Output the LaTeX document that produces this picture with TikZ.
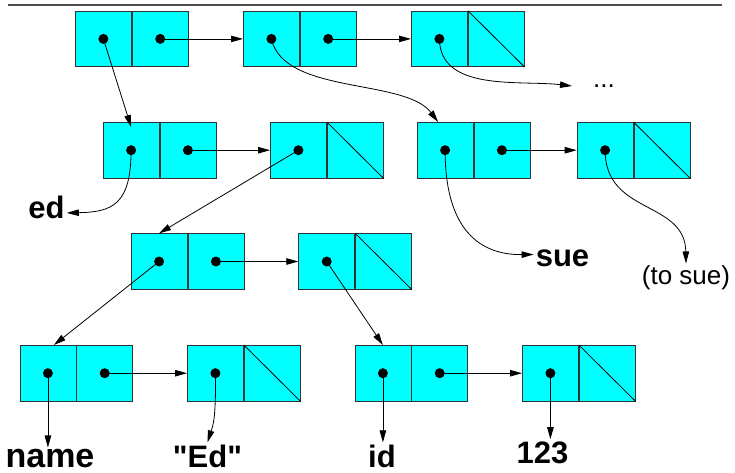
\documentclass[tikz,border=0pt]{standalone}
\usepackage{fontspec}
\setmainfont{Liberation Sans}
% a family without TeX ligatures, so that " stays a straight quote
\newfontfamily\labelfont{Liberation Sans}
\usetikzlibrary{arrows.meta}

\definecolor{cellcyan}{RGB}{0,255,255}

\tikzset{
  cell/.style={draw=black!80, fill=cellcyan, line width=0.8pt, inner sep=0pt,
               minimum width=56pt, minimum height=55.6pt},
  ptr/.style={line width=0.8pt, -{Triangle[length=12pt,width=6.5pt]}},
  lbl/.style={font=\labelfont\fontsize{31}{31}\selectfont\bfseries, inner sep=2pt},
  biglbl/.style={font=\labelfont\fontsize{34}{34}\selectfont\bfseries, inner sep=1pt},
  sm/.style={font=\labelfont\fontsize{26}{26}\selectfont, inner sep=2pt},
}

% cons pair: #1 name, #2 left, #3 top, #4 = 1 when the cdr is nil
\newcommand\conspair[4]{%
  \node[cell, anchor=north west] (#1car) at (#2,#3) {};
  \node[cell, anchor=north west] (#1cdr) at (#1car.north east) {};
  \fill (#1car.center) circle (5pt);
  \ifnum#4=1
    \draw[line width=0.8pt] (#1cdr.north west) -- (#1cdr.south east);
  \else
    \fill (#1cdr.center) circle (5pt);
  \fi
}

\begin{document}
\begin{tikzpicture}[x=1pt,y=-1pt]
\useasboundingbox (0,0) rectangle (735,472);

% rule across the top
\draw[black!70, line width=1.4pt] (8,5) -- (722,5);

% row 1
\conspair{aa}{75}{10.7}{0}
\conspair{ab}{243}{10.7}{0}
\conspair{ac}{411}{10.7}{1}
% row 2
\conspair{ba}{102.7}{122}{0}
\conspair{bb}{270}{122}{1}
\conspair{bc}{416.7}{122}{0}
\conspair{bd}{576.7}{122}{1}
% row 3
\conspair{ca}{130.7}{233.3}{0}
\conspair{cb}{298.3}{233.3}{1}
% row 4
\conspair{da}{19.5}{345}{0}
\conspair{db}{187}{345}{1}
\conspair{dc}{354.5}{345}{0}
\conspair{dd}{522}{345}{1}

% labels
\node[lbl, anchor=base] (ed) at (46.5,218) {ed};
\node[lbl, anchor=base] (sue) at (562.5,266.7) {sue};
\node[sm, anchor=base] (tosue) at (686,284.5) {(to sue)};
\node[sm, anchor=base] (more) at (604,87) {...};
\coordinate (moretip) at (572,86);
\node[biglbl, anchor=base] (name) at (50,467) {name};
\node[lbl, anchor=base] (edstr) at (207.5,467) {"Ed"};
\node[lbl, anchor=base] (id) at (382,467) {id};
\node[lbl, anchor=base] (num) at (542.5,463) {123};

% cdr links
\draw[ptr] (aacdr.center) -- (abcar.west);
\draw[ptr] (abcdr.center) -- (accar.west);
\draw[ptr] (bacdr.center) -- (bbcar.west);
\draw[ptr] (bccdr.center) -- (bdcar.west);
\draw[ptr] (cacdr.center) -- (cbcar.west);
\draw[ptr] (dacdr.center) -- (dbcar.west);
\draw[ptr] (dccdr.center) -- (ddcar.west);

% car links
\draw[ptr] (aacar.center) -- ([yshift=-5pt]bacar.north);
\draw[ptr] (abcar.center) .. controls (284,95) and (405,78) .. ([xshift=-7pt]bccar.north);
\draw[ptr] (accar.center) .. controls (440,92) and (520,80) .. (moretip);
\draw[ptr] (bacar.center) .. controls (131,205) and (112,212) .. ([yshift=-6pt]ed.east);
\draw[ptr] (bbcar.center) -- (cacar.north);
\draw[ptr] (bccar.center) .. controls (445,230) and (480,255) .. ([yshift=4pt]sue.west);
\draw[ptr] (bdcar.center) .. controls (605,215) and (685,200) .. (tosue.north);
\draw[ptr] (cacar.center) -- ([xshift=6pt]dacar.north);
\draw[ptr] (cbcar.center) -- (dccar.north);
\draw[ptr] (dacar.center) -- (name.north -| dacar.center);
\draw[ptr] (dbcar.center) .. controls (216,420) and (213,425) .. (edstr.north);
\draw[ptr] (dccar.center) -- (id.north -| dccar.center);
\draw[ptr] (ddcar.center) -- (num.north -| ddcar.center);
\end{tikzpicture}
\end{document}
